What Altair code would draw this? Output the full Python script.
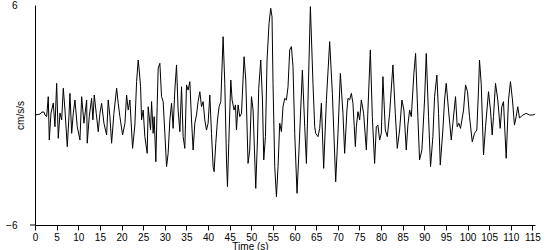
import altair as alt
import pandas as pd

time_s = [
    0, 1.15, 1.62, 2.08, 2.31, 2.70, 3.07, 3.30, 3.70, 4.23, 4.62, 5.01, 5.38, 5.77, 6.17, 6.54,
    6.93, 7.46, 7.85, 8.08, 8.48, 8.85, 9.24, 9.77, 10.39, 10.79, 11.32, 11.94, 12.08, 12.54,
    13.09, 13.39, 13.70, 14.16, 14.62, 15.01, 15.40, 15.94, 16.56, 16.93, 17.32, 17.71, 18.24,
    18.87, 19.24, 19.63, 20.25, 20.79, 21.18, 21.55, 21.94, 22.56, 23.09, 23.49, 23.86, 24.09,
    24.41, 24.64, 25.01, 25.40, 25.94, 26.17, 26.72, 26.95, 27.32, 27.55, 27.94, 28.24, 28.48,
    28.87, 29.26, 29.63, 30.02, 30.42, 30.78, 31.18, 31.57, 31.94, 32.33, 32.72, 33.09, 33.49,
    33.88, 34.25, 34.64, 35.03, 35.40, 35.80, 36.19, 36.56, 36.95, 37.34, 37.71, 38.11, 38.50,
    38.87, 39.26, 39.65, 40.02, 40.42, 40.81, 41.18, 41.41, 41.80, 42.19, 42.56, 42.96, 43.49,
    43.88, 44.27, 44.50, 44.80, 45.27, 45.57, 46.03, 46.35, 46.58, 46.95, 47.34, 47.74, 48.34,
    48.73, 49.26, 49.65, 50.05, 50.42, 51.04, 51.43, 51.73, 52.19, 52.59, 52.89, 53.28, 53.65,
    54.11, 54.50, 54.80, 55.03, 55.43, 55.82, 56.19, 56.58, 56.97, 57.34, 57.74, 58.13, 58.50,
    58.89, 59.28, 59.65, 60.05, 60.58, 61.04, 61.82, 62.36, 62.75, 63.12, 63.67, 64.27, 64.67,
    64.90, 65.43, 65.82, 66.21, 66.74, 67.37, 68.13, 68.75, 69.52, 70.05, 70.60, 71.20, 71.59,
    72.12, 72.36, 72.75, 73.14, 73.51, 74.07, 74.30, 74.67, 75.06, 75.45, 75.98, 76.61, 77.53,
    77.99, 78.52, 78.91, 79.28, 79.68, 80.07, 80.44, 80.99, 81.46, 81.99, 82.75, 83.30, 83.76,
    84.30, 84.83, 85.29, 85.84, 86.21, 86.61, 87.00, 87.60, 87.99, 88.52, 88.91, 89.45, 90.07,
    90.46, 90.99, 91.45, 91.99, 92.38, 92.91, 93.30, 93.70, 94.30, 94.69, 95.08, 95.61, 96.24,
    96.61, 97.23, 97.62, 97.99, 98.38, 99.08, 99.54, 100.0, 100.46, 101.09, 101.62, 102.15,
    102.54, 102.77, 103.16, 103.70, 104.16, 104.85, 105.31, 105.70, 106.0, 106.47, 107.0,
    107.55, 107.92, 108.31, 108.94, 109.47, 109.93, 110.39, 110.85, 111.25, 111.62, 112.01,
    112.40, 112.77, 113.56, 114.32, 115.08, 115.63,
]

accel_cm_s2 = [
    0, 0.05, 0.16, 0.16, 0, -0.09, 1.00, -1.36, 0.11, 0.65, -0.64, 1.73, -1.27, 0.11, -0.27, 1.46,
    0.27, -1.73, -0.09, 1.18, -1.0, 0.09, 0.82, -0.64, -1.36, 1.0, -0.45, 0.82, -1.54, -0.09,
    0.91, -0.27, 1.09, 0.09, -0.91, 0.09, 0.64, -0.45, -1.09, 0.82, -0.09, -1.54, 0.09,
    1.46, 0.64, -0.09, -1.09, -0.45, 1.09, 0.27, 0.82, -1.82, -0.55, 1.82, 3.0, 2.45,
    1.54, -0.27, 0.27, -1.18, -2.09, 0.45, -0.82, 0.73, -1.0, -0.09, -2.55, 0.45, 2.55,
    2.82, 1.0, 0.73, -1.0, -2.82, -2.09, -0.27, 0.64, -0.73, 1.36, 2.73, 0.27, -0.91,
    1.54, -1.18, -1.82, 1.64, 1.36, 1.82, -0.27, -1.91, -0.45, 0, 0.73, 1.27, 0.45,
    0.73, -0.27, -0.82, -0.45, 1.09, -1.0, -2.82, -3.09, -1.54, -0.27, 0.45, 0.73, 4.27,
    1.73, -2.45, -3.91, -1.54, 1.91, 0.82, 0.27, 0.55, -0.82, 0.55, -0.09, 0.09, 3.18,
    1.91, -2.64, -1.91, 1.0, 0.27, -4.0, -1.36, 1.46, 3.0, 0.82, -2.45, -1.18, 3.0,
    5.0, 5.82, 5.36, 1.73, -2.82, -4.46, -2.82, -0.45, -0.91, 0.45, 0.91, 0.82, 1.54,
    3.55, 3.73, 2.64, -1.0, -4.27, -1.91, 2.45, -0.64, -2.64, 0.82, 5.91, 1.73, -0.64,
    -1.0, -1.18, -0.73, 0.64, -2.91, 0.82, 4.0, 1.18, -3.64, -1.0, 2.27, 0.09, -2.09,
    0.27, 0.91, 0.82, 1.18, 0.64, -1.73, -0.64, 0.18, -0.27, 0.82, 0.09, -1.91, 3.55,
    -0.09, -2.64, -0.64, -0.55, -1.36, -1.0, 2.09, -0.82, -1.18, 0.09, 2.73, 0.09, -1.82,
    -0.82, 0.82, 0.27, -1.91, -0.55, 0.27, -0.09, 2.27, 3.36, -0.09, -2.45, -1.91, 0.82,
    3.36, -0.09, -2.82, -1.18, 1.0, 2.18, 0.09, -2.73, -0.82, 0.82, 1.73, 0.27, -1.36,
    -0.45, 1.0, -0.64, -0.45, -0.73, 0.27, 1.64, 1.27, -0.09, -1.46, -1.0, -0.82,
    1.36, 3.0, 1.73, -2.18, -0.64, 1.27, 0.27, -1.09, -0.09, 1.73, 0.82,
    -0.73, 0.45, 0.73, -2.36, 0.82, 1.82, 0.82, -0.55, -0.09, 0.45, -0.16,
    -0.09, 0, 0.09, 0, 0, 0.05,
]

x_ticks = list(range(0, 120, 5))
y_labels = [-6, 6]

df = pd.DataFrame({"t": time_s, "a": accel_cm_s2})

FONT = "Liberation Sans"

line = alt.Chart(df).mark_line(color="black", strokeWidth=1, interpolate="linear").encode(
    x=alt.X(
        "t:Q",
        scale=alt.Scale(domain=[0, 115.6], nice=False, zero=False),
        axis=alt.Axis(
            values=x_ticks,
            title="Time (s)",
            titleX=215,
            titleY=24,
            titleBaseline="alphabetic",
            titleFont=FONT,
            titleFontSize=10,
            titleFontWeight="normal",
            titleColor="black",
            labelFont=FONT,
            labelFontSize=10,
            labelColor="black",
            labelPadding=2,
            labelFlush=False,
            labelOverlap=False,
            tickSize=5,
            tickColor="black",
            domainColor="black",
            grid=False,
        ),
    ),
    y=alt.Y(
        "a:Q",
        scale=alt.Scale(domain=[-6, 6], nice=False),
        axis=alt.Axis(
            values=y_labels,
            title="cm/s/s",
            titleAngle=-90,
            titleX=-15,
            titleY=110,
            titleAlign="center",
            titleBaseline="middle",
            titleFont=FONT,
            titleFontSize=10,
            titleFontWeight="normal",
            titleColor="black",
            labelFont=FONT,
            labelFontSize=10,
            labelColor="black",
            labelPadding=18,
            ticks=False,
            domainColor="black",
            grid=False,
        ),
    ),
)

corner_tick = alt.Chart(pd.DataFrame({"a": [-6]})).mark_rule(color="black", strokeWidth=1).encode(
    y=alt.Y("a:Q", scale=alt.Scale(domain=[-6, 6], nice=False)),
    x=alt.value(-5),
    x2=alt.value(0),
)

chart = (
    alt.layer(line, corner_tick)
    .properties(
        width=500,
        height=220,
        autosize=alt.AutoSizeParams(type="none"),
        padding={"left": 35, "top": 5, "right": 15, "bottom": 25},
        background="white",
    )
    .configure_view(stroke=None)
)

chart.save("out.html", embed_options={"renderer": "svg", "actions": False})
